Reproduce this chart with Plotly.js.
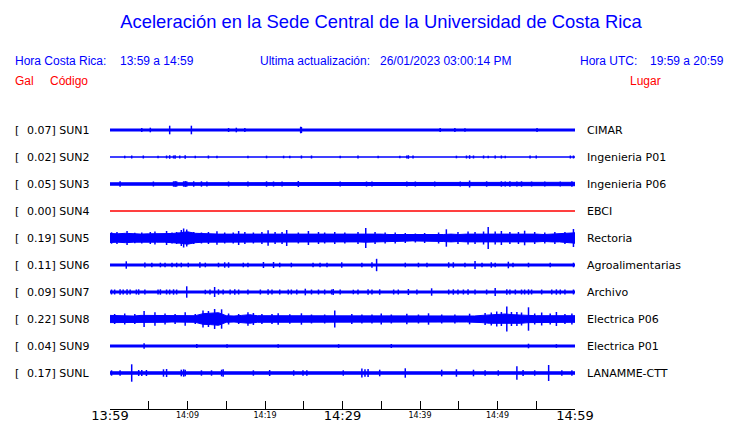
<!DOCTYPE html>
<html><head><meta charset="utf-8">
<script src="https://cdn.plot.ly/plotly-3.0.1.min.js"></script>
<style>html,body{margin:0;padding:0;background:#fff}#chart{width:740px;height:423px}</style>
</head><body><div id="chart"></div>
<script>
// ---- data ----
const minutes = [0,1,2,3,4,5,6,7,8,9,10,11,12,13,14,15,16,17,18,19,20,21,22,23,24,25,26,27,28,29,30,31,32,33,34,35,36,37,38,39,40,41,42,43,44,45,46,47,48,49,50,51,52,53,54,55,56,57,58,59,60];
const codes = ['SUN1','SUN2','SUN3','SUN4','SUN5','SUN6','SUN7','SUN8','SUN9','SUNL'];
const places = ['CIMAR','Ingenieria P01','Ingenieria P06','EBCI','Rectoria','Agroalimentarias','Archivo','Electrica P06','Electrica P01','LANAMME-CTT'];
const peakGal = ['0.07','0.02','0.05','0.00','0.19','0.11','0.09','0.22','0.04','0.17'];
const majorTickVals = [0,5,10,15,20,25,30,35,40,45,50,55,60];
const majorTickText = ['13:59','','','','','','14:29','','','','','','14:59'];
const minorTickVals = [10,20,40,50];
const minorTickText = ['14:09','14:19','14:39','14:49'];

// envelope half-amplitudes (one per minute)
const env_SUN1 = [1.0,1.0,1.0,0.3,1.0,1.0,1.0,1.0,1.0,1.0, 1.0,1.0,1.0,1.0,1.0,0.3,1.0,1.0,1.0,0.5, 1.0,1.0,1.0,1.0,1.0,1.0,1.0,0.5,1.0,1.0, 1.0,1.0,0.5,1.0,1.0,1.0,1.0,1.0,0.3,1.0, 1.0,1.0,1.0,1.0,1.0,1.0,1.0,1.0,1.0,1.0, 1.0,1.0,0.5,1.0,1.0,1.0,0.5,1.0,1.0,1.0, 1.0];
const env_SUN2 = [0,0,0,0,0,0,0,0,0.3,0.3, 0,0,0,0,0,0,0,0,0,0, 0,0,0,0,0,0,0,0,0,0, 0,0,0,0,0,0,0,0,0,0, 0,0,0,0,0,0,0,0,0,0, 0,0,0,0,0,0,0,0,0,0, 0];
const env_SUN3 = [1.2,1.2,1.2,1.2,1.2,1.2,1.2,1.2,1.2,1.2, 1.2,1.2,1.2,1.2,1.2,1.2,1.2,1.2,1.2,1.2, 1.2,1.2,1.2,1.2,1.2,1.2,1.2,1.2,1.2,1.2, 1.2,1.2,1.2,1.2,1.2,1.2,1.2,1.2,1.2,1.2, 1.2,1.2,1.2,1.2,1.2,1.2,1.2,1.2,1.2,1.2, 1.2,1.2,1.2,1.2,1.2,1.2,1.2,1.2,1.2,1.7, 1.7];
const env_SUN4 = [0,0,0,0,0,0,0,0,0,0, 0,0,0,0,0,0,0,0,0,0, 0,0,0,0,0,0,0,0,0,0, 0,0,0,0,0,0,0,0,0,0, 0,0,0,0,0,0,0,0,0,0, 0,0,0,0,0,0,0,0,0,0, 0];
const env_SUN5 = [4.5,4.2,4.7,4.2,3.9,4.2,4.2,4.2,4.5,5.2, 6.2,4.7,4.2,3.9,3.9,3.9,3.9,4.5,4.2,4.2, 4.5,4.5,4.2,4.5,3.9,4.2,4.2,3.9,3.9,4.2, 3.9,3.9,3.9,4.2,3.9,3.9,3.5,3.5,3.2,2.9, 2.9,2.9,3.2,3.5,3.9,3.5,3.9,3.9,4.2,4.5, 4.2,4.2,4.2,4.2,3.9,3.9,3.5,3.9,3.9,4.2, 5.2];
const env_SUN6 = [1.0,1.0,1.0,1.0,1.0,1.0,1.0,1.0,1.0,1.0, 1.0,1.0,1.0,1.0,1.0,1.0,1.0,1.0,1.0,1.0, 1.0,1.0,1.0,1.0,1.0,1.0,1.0,1.0,1.0,1.0, 1.0,1.0,1.0,1.0,1.0,1.0,1.0,1.0,1.0,1.0, 1.0,1.0,1.0,1.0,1.0,1.0,1.0,1.0,1.0,1.0, 1.0,1.0,1.0,1.0,1.0,1.0,1.0,1.0,1.0,1.0, 1.0];
const env_SUN7 = [1.0,1.0,1.0,1.0,1.0,1.0,1.0,1.0,1.0,1.0, 1.0,1.0,1.0,1.0,1.0,1.0,1.0,1.0,1.0,1.0, 1.0,1.0,1.0,1.0,1.0,1.0,1.0,1.0,1.0,1.0, 1.0,1.0,1.0,1.0,1.0,1.0,1.0,1.0,1.0,1.0, 1.0,1.0,1.0,1.0,1.0,1.0,1.0,1.0,1.0,1.0, 1.0,1.0,1.0,1.0,1.0,1.0,1.0,1.0,1.0,1.0, 1.0];
const env_SUN8 = [3.6,3.3,3.3,3.0,3.6,3.6,3.3,3.3,3.0,3.3, 3.0,3.3,5.3,5.6,6.3,3.3,3.0,3.6,4.3,3.3, 3.3,3.3,3.0,3.0,3.3,2.6,2.6,2.6,2.6,3.0, 3.0,3.0,3.0,3.0,3.0,3.3,3.0,3.0,3.0,3.0, 3.0,3.0,3.0,3.0,3.0,3.0,3.0,3.0,3.6,4.3, 4.6,5.0,4.3,4.3,3.6,3.3,3.3,3.3,3.3,3.3, 3.3];
const env_SUN9 = [1.0,1.0,1.0,1.0,1.0,1.0,1.0,1.0,1.0,1.0, 1.0,1.0,1.0,1.0,1.0,0.4,0.4,0.6,1.0,1.0, 1.0,0.6,1.0,1.0,1.0,1.0,1.0,1.0,1.0,1.0, 1.0,1.0,1.0,1.0,1.0,1.0,0.4,0.4,1.0,1.0, 1.0,1.0,1.0,1.0,1.0,1.0,1.0,1.0,1.0,1.0, 1.0,1.0,1.0,1.0,1.0,1.0,1.0,1.0,1.0,1.0, 1.0];
const env_SUNL = [1.2,1.2,1.2,1.2,1.2,1.2,1.2,1.2,1.2,1.2, 1.2,1.2,1.2,1.2,1.2,1.2,1.2,1.2,1.2,1.2, 1.2,1.2,1.2,1.2,1.2,1.2,1.2,1.2,1.2,1.2, 1.2,1.2,1.2,1.2,1.2,1.2,1.2,1.2,1.2,1.2, 1.2,1.2,1.2,1.2,1.2,1.2,1.2,1.2,1.2,1.2, 1.2,1.2,1.2,1.2,1.2,1.2,1.2,1.2,1.2,1.2, 1.2];

// spikes: times (minutes after 13:59) and half-amplitudes
const spkT_SUN1 = [4.1,5.2,7.7,10.5,15.3,16.3,17.4,24.6,24.7,42.6,44.5,45.8,55.1];
const spkA_SUN1 = [2,2.3,4.3,4.3,2,2.3,2,3.3,3,2,2,1.8,2];
const spkT_SUN2 = [1.9,2.8,4.3,6.2,7.3,7.7,8.2,8.4,9.0,9.7,11.0,12.7,13.8,17.8,20.2,22.4,23.2,24.7,26.0,29.7,32.0,34.6,37.4,38.3,38.5,39.1,44.7,46.0,46.4,46.9,48.2,48.8,49.7,50.5,51.0,54.2,55.0,59.4,59.8];
const spkA_SUN2 = [1.3,1.5,1.5,1.3,1.5,1.8,1.5,1.8,1.5,1.8,1.3,1.5,1.3,1.3,1.3,1.3,1.3,1.5,1.5,1.3,1.5,1.3,1.3,1.5,1.8,1.5,1.3,1.5,1.8,1.5,1.5,1.3,1.5,1.5,1.3,1.5,1.5,1.5,1.5];
const spkT_SUN3 = [1.3,5.6,8.2,8.4,8.6,9.5,9.7,9.9,10.8,11.8,12.5,15.3,17.8,20.2,21.1,22.2,24.3,29.7,33.1,33.8,38.3,39.4,41.9,45.2,46.4,48.6,50.5,51.0,51.6,52.5,53.1,54.4,56.1,58.1,59.6];
const spkA_SUN3 = [2.7,2.5,2.7,3,2.7,2.7,3,2.7,2.7,2.7,2.5,2.5,2.5,2.7,2.5,2.5,3,2.5,2.5,2.5,2.5,2.5,2.5,2.5,3.5,2.7,2.7,2.5,2.7,2.5,2.7,2.5,2.5,2.5,2.7];
const spkT_SUN4 = [];
const spkA_SUN4 = [];
const spkT_SUN5 = [0.2,0.9,2.2,3.2,4.1,5.2,5.8,7.3,8.0,8.6,9.2,9.5,9.9,10.8,11.8,12.7,13.8,14.8,15.9,16.6,17.4,18.5,19.6,20.4,21.3,22.2,22.8,24.3,25.6,26.9,27.7,29.0,30.3,32.0,33.0,34.2,35.5,36.8,38.1,39.4,40.6,42.4,43.4,44.9,46.2,47.1,48.2,48.8,49.7,50.5,51.6,52.7,53.5,54.8,56.1,57.4,58.7,59.8];
const spkA_SUN5 = [5.7,6,7,5.3,5.5,6,6.5,7,5.5,6,8,9.5,8.5,6,5.5,6,6.7,5.5,5.5,7,6,5.5,6,7.7,6,6,8,5.5,7,6,5.5,6,5.5,6,10,6,5.5,5.5,5,4.5,5,5.5,8.7,6,6.5,6,6.5,11,6.5,7,6,6,7.3,6,5.5,6,6,9];
const spkT_SUN6 = [2.1,4.5,5.4,6.5,7.1,8.0,8.6,9.2,10.1,11.6,12.3,14.0,14.8,15.3,17.2,17.8,19.8,21.1,21.9,23.4,26.2,27.1,28.0,29.9,32.5,33.8,34.4,38.1,39.8,40.9,43.7,44.3,45.8,47.1,48.0,49.2,49.7,51.4,52.0,54.0,56.8,59.8];
const spkA_SUN6 = [3.7,2.5,2.3,2.3,2.3,2.3,2.3,2.3,2.3,2.7,2.3,2.3,2.7,2.7,2.3,2.3,3,3,2.3,2.3,2.3,2.3,2.3,2.7,2.3,2.7,6.2,2.3,2.3,2.3,2.7,2.7,2.3,4,2.3,2.7,2.3,3.3,2.3,2.3,2.3,2.3];
const spkT_SUN7 = [0.2,0.6,1.3,1.7,2.2,2.6,3.4,3.7,4.5,6.2,6.5,7.3,7.7,8.2,8.6,9.9,12.3,12.9,13.5,14.0,14.6,15.5,16.1,16.6,17.8,19.4,20.4,20.9,21.9,23.0,23.4,24.1,25.2,26.0,26.9,27.7,28.6,28.8,29.7,31.4,32.0,33.3,33.8,34.8,36.6,37.2,38.5,39.6,41.5,43.7,44.3,44.9,45.6,46.2,47.1,48.6,49.7,51.2,51.6,52.3,53.1,53.5,54.0,54.4,55.7,57.0,57.6,58.1,58.7,59.8];
const spkA_SUN7 = [2.5,2.5,2.7,2.5,2.7,2.5,2.5,2.7,2.5,2.5,2.7,2.5,2.5,2.7,2.5,5.7,2.3,2.5,5,2.7,2.5,2.5,2.7,2.5,2.5,2.5,2.7,2.5,2.5,2.5,2.5,2.5,3.3,2.5,2.5,2.5,2.5,3,2.5,2.3,2.5,2.7,2.5,2.7,2.5,2.5,3,2.5,3.7,2.5,2.7,2.5,2.5,2.7,2.5,2.5,4,2.7,2.5,2.5,2.5,2.5,2.7,2.5,2.5,2.5,2.7,2.5,2.5,2.5];
const spkT_SUN8 = [0.6,1.9,3.2,4.4,5.8,7.1,8.4,9.7,11.0,12.0,12.7,13.5,14.4,15.3,16.6,17.8,18.5,19.6,20.9,21.7,23.2,24.7,26.0,27.7,29.0,31.2,32.5,33.8,35.0,36.3,38.3,39.8,41.1,42.8,44.5,46.4,48.4,49.2,49.9,50.5,51.2,51.8,52.5,53.1,54.0,54.8,55.7,56.8,57.6,58.7,59.6];
const spkA_SUN8 = [5,5.5,5,8,6.7,5.5,5,6.7,5,8.5,8,10,9.7,5.5,5,6.7,6,5,5,5.7,4.7,5.7,4.5,4.5,8.5,5,4.5,4.5,5.5,4.5,5.3,4.5,5.7,4.5,4.5,5.3,6,6.5,7.5,7,12.5,7,7,6.5,11.7,5.5,6.5,5.5,7,5,5.5];
const spkT_SUN9 = [4.4,11.2,15.1,21.7,29.5,36.3,54.0,57.6];
const spkA_SUN9 = [2.7,2,1.8,1.8,1.8,2,2.3,1.8];
const spkT_SUNL = [0.2,1.3,2.8,3.7,4.1,4.7,6.9,7.3,9.2,9.5,9.7,11.8,13.1,14.4,14.6,18.5,20.6,23.7,24.9,25.4,30.1,32.5,32.9,33.3,34.8,38.1,42.8,44.7,46.9,48.4,50.1,52.5,53.3,54.8,56.6,58.3,59.6];
const spkA_SUNL = [2.7,2.7,8.7,3,3,3,3.7,4,3.3,3.7,3.3,2.7,2.7,3.3,3.7,2.7,3,2.7,2.7,2.7,2.7,4.5,3.7,4,3.3,4.7,3.3,3.7,3.3,2.7,2.7,6.7,3,2.7,8,2.7,2.7];

// ---- build ----
const envs = [env_SUN1,env_SUN2,env_SUN3,env_SUN4,env_SUN5,env_SUN6,env_SUN7,env_SUN8,env_SUN9,env_SUNL];
const spkTs = [spkT_SUN1,spkT_SUN2,spkT_SUN3,spkT_SUN4,spkT_SUN5,spkT_SUN6,spkT_SUN7,spkT_SUN8,spkT_SUN9,spkT_SUNL];
const spkAs = [spkA_SUN1,spkA_SUN2,spkA_SUN3,spkA_SUN4,spkA_SUN5,spkA_SUN6,spkA_SUN7,spkA_SUN8,spkA_SUN9,spkA_SUNL];

// layout geometry (pixels)
const W = 740, H = 423;
const PL = 110, PR = 575, PT = 115, PB = 409;
const rowFirst = 15, rowStep = 27;   // row centres in y-axis units (px below plot top)
const px2x = p => (p - PL) / (PR - PL);
const py2y = p => (PB - p) / (PB - PT);

const BLUE = '#0000ff', RED = '#ff0000';
const traces = [];
codes.forEach((c, i) => {
  const yc = rowFirst + i * rowStep;
  const col = c === 'SUN4' ? RED : BLUE;
  const env = envs[i];
  const bx = minutes.concat(minutes.slice().reverse());
  const by = env.map(v => yc - v).concat(env.slice().reverse().map(v => yc + v));
  traces.push({type:'scatter', mode:'lines', x:bx, y:by, fill:'toself', fillcolor:col,
    line:{color:col, width:1}, hoverinfo:'skip', showlegend:false});
  const sx = [], sy = [];
  spkTs[i].forEach((t, k) => { sx.push(t, t, null); sy.push(yc - spkAs[i][k], yc + spkAs[i][k], null); });
  if (sx.length) traces.push({type:'scatter', mode:'lines', x:sx, y:sy,
    line:{color:col, width:1.5}, hoverinfo:'skip', showlegend:false});
});
traces.push({type:'scatter', mode:'markers', x:[], y:[], xaxis:'x2', yaxis:'y', showlegend:false});

const ann = [];
const AX = -2; // annotation box padding compensation
const hdr = (text, xp, yp, color) => ann.push({text, xref:'paper', yref:'paper', x:px2x(xp + AX), y:py2y(yp),
  xanchor:'left', yanchor:'middle', showarrow:false, font:{family:'Liberation Sans, Arial, sans-serif', size:12, color}});
hdr('Hora Costa Rica:', 15, 61, BLUE);
hdr('13:59 a 14:59', 120, 61, BLUE);
hdr('Ultima actualización:', 260, 61, BLUE);
hdr('26/01/2023 03:00:14 PM', 380, 61, BLUE);
hdr('Hora UTC:', 580, 61, BLUE);
hdr('19:59 a 20:59', 650, 61, BLUE);
hdr('Gal', 15, 81, RED);
hdr('Código', 50, 81, RED);
hdr('Lugar', 630, 81, RED);

codes.forEach((c, i) => {
  const yc = rowFirst + i * rowStep;
  const f = {family:'DejaVu Sans, sans-serif', size:11, color:'#000'};
  ann.push({text:'[', xref:'paper', yref:'y', x:px2x(15 + AX), y:yc, xanchor:'left', yanchor:'middle', showarrow:false, font:f});
  ann.push({text:peakGal[i] + '] ' + c, xref:'paper', yref:'y', x:px2x(27 + AX), y:yc, xanchor:'left', yanchor:'middle', showarrow:false, font:f});
  ann.push({text:places[i], xref:'paper', yref:'y', x:px2x(587 + AX), y:yc, xanchor:'left', yanchor:'middle', showarrow:false, font:f});
});

const layout = {
  width:W, height:H, paper_bgcolor:'#fff', plot_bgcolor:'#fff',
  margin:{l:PL, r:W-PR, t:PT, b:H-PB, pad:0},
  showlegend:false,
  title:{text:'Aceleración en la Sede Central de la Universidad de Costa Rica', xref:'container', yref:'container',
    x:381/W, y:1-22/H, xanchor:'center', yanchor:'middle',
    font:{family:'Liberation Sans, Arial, sans-serif', size:18.4, color:BLUE}},
  xaxis:{range:[0,60], showgrid:false, zeroline:false, showline:true, linecolor:'#000', linewidth:1,
    ticks:'inside', ticklen:8, tickwidth:1, tickcolor:'#000', tickmode:'array',
    tickvals:majorTickVals, ticktext:majorTickText, ticklabelstandoff:-6,
    tickfont:{family:'DejaVu Sans, sans-serif', size:13, color:'#000'}, fixedrange:true},
  xaxis2:{range:[0,60], overlaying:'x', anchor:'y', side:'bottom', showgrid:false, zeroline:false, showline:false,
    ticks:'', tickmode:'array', tickvals:minorTickVals, ticktext:minorTickText,
    tickfont:{family:'DejaVu Sans, sans-serif', size:8, color:'#000'}},
  yaxis:{range:[PB-PT, 0], showgrid:false, zeroline:false, showline:false, showticklabels:false, ticks:''},
  annotations:ann
};
Plotly.newPlot('chart', traces, layout, {staticPlot:true, displayModeBar:false});
</script></body></html>
